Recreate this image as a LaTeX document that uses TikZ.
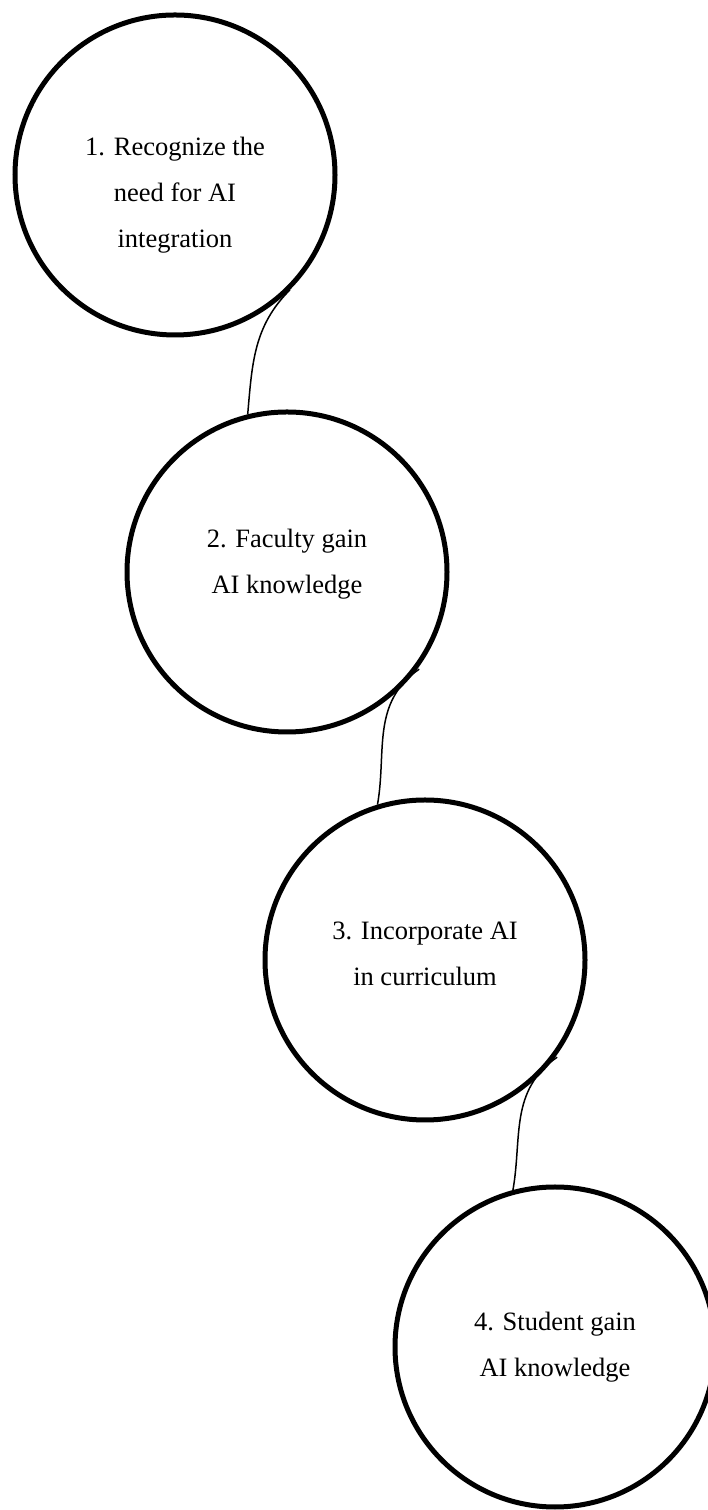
\documentclass[tikz,border=0pt]{standalone}
\usepackage{fontspec}
\setmainfont{Liberation Serif}
\begin{document}
\begin{tikzpicture}[x=1pt,y=1pt,
		stage/.style={draw,circle,line width=5pt,minimum size=320pt,inner sep=0pt,align=center,font=\fontsize{26.5}{46}\selectfont},
		link/.style={line width=1.5pt}]
				% Frame
				\useasboundingbox (0,0) rectangle (707,1510);
				% Stages
				\node [stage] (need) at (175,1335) {\rule{0pt}{58pt}1. Recognize the\\need for AI\\integration};
				\node [stage] (faculty) at (287,938) {2. Faculty gain\\AI knowledge\rule[-22pt]{0pt}{0pt}};
				\node [stage] (curriculum) at (425,550) {3. Incorporate AI\\in curriculum\rule[-12pt]{0pt}{0pt}};
				\node [stage] (student) at (555,163) {4. Student gain\\AI knowledge};
				% Links
				\draw [link] (need.-45) to [out=225,in=85] (faculty.104);
				\draw [link,shorten <=-5pt] (faculty.-38) to [out=215,in=80] (curriculum.107);
				\draw [link,shorten <=-5pt] (curriculum.-38) to [out=215,in=80] (student.105);
			\end{tikzpicture}
\end{document}
